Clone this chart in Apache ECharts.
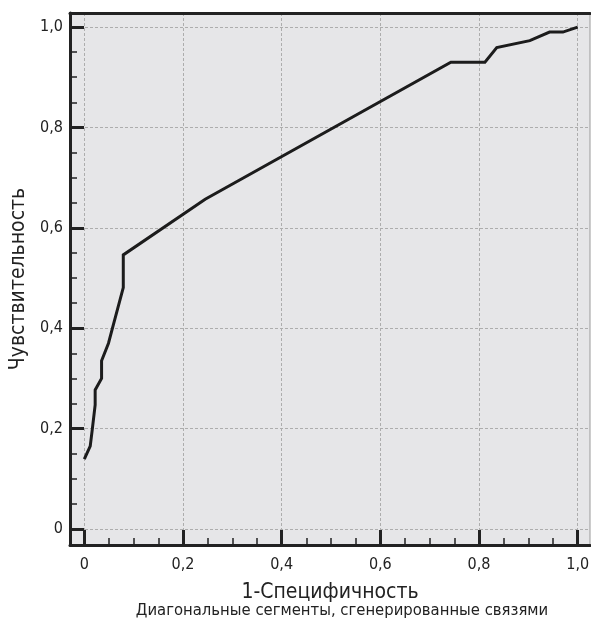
<!DOCTYPE html>
<html>
<head>
<meta charset="utf-8">
<script src="https://cdn.jsdelivr.net/npm/echarts@6/dist/echarts.min.js"></script>
<style>
  html, body {margin: 0; padding: 0; background: #fff;}
  #chart {width: 591px; height: 619px;}
</style>
</head>
<body>
<div id="chart"></div>
<script>
// ROC кривая - точки (1-специфичность, чувствительность)
var fpr = [0, 0.012, 0.016, 0.022, 0.022, 0.035, 0.035, 0.049, 0.056, 0.079, 0.079, 0.245, 0.743, 0.812, 0.836, 0.903, 0.943, 0.970, 1.0]
var tpr = [0.139, 0.165, 0.197, 0.247, 0.277, 0.300, 0.335, 0.370, 0.396, 0.481, 0.546, 0.657, 0.930, 0.930, 0.959, 0.973, 0.990, 0.990, 1.0]

var majorTicks = [0, 0.2, 0.4, 0.6, 0.8, 1.0]
var minorTicks = [0.05, 0.1, 0.15, 0.25, 0.3, 0.35, 0.45, 0.5, 0.55, 0.65, 0.7, 0.75, 0.85, 0.9, 0.95]
var tickLabels = ['0', '0,2', '0,4', '0,6', '0,8', '1,0']

var xName = '1-Специфичность'
var yName = 'Чувствительность'
var note = 'Диагональные сегменты, сгенерированные связями'

var FONT = '"Liberation Sans Narrow", "DejaVu Sans Condensed", sans-serif'
var INK = '#222'

var points = fpr.map(function (x, i) { return [x, tpr[i]] })

function fmt (v) {
  var i = majorTicks.indexOf(Math.round(v * 10) / 10)
  return i >= 0 ? tickLabels[i] : ''
}

var chart = echarts.init(document.getElementById('chart'), null, {renderer: 'canvas'})

var xRange = {min: -0.029, max: 1.025}
var yRange = {min: -0.032, max: 1.028}

var option = {
  animation: false,
  title: {
    text: note,
    left: 337,
    top: 597,
    textAlign: 'center',
    textStyle: {fontFamily: FONT, fontSize: 16.5, fontWeight: 'normal', color: INK}
  },
  grid: {
    left: 70, right: 1, top: 13, bottom: 74,
    outerBoundsMode: 'none',
    containLabel: false,
    show: true,
    backgroundColor: '#e6e6e8',
    borderColor: '#9a9a9a',
    borderWidth: 1
  },
  xAxis: [
    {
      type: 'value', position: 'bottom', min: xRange.min, max: xRange.max,
      name: xName, nameLocation: 'middle', nameGap: 37,
      nameTextStyle: {fontFamily: FONT, fontSize: 21, color: INK},
      axisLine: {show: true, onZero: false, lineStyle: {color: INK, width: 3}},
      axisTick: {show: true, inside: true, length: 15, lineStyle: {color: INK, width: 3}, customValues: majorTicks},
      axisLabel: {show: true, margin: 12, fontFamily: FONT, fontSize: 16, color: INK, customValues: majorTicks, formatter: fmt},
      splitLine: {show: true, lineStyle: {color: '#adadad', type: [3, 2], width: 1}}
    },
    {
      type: 'value', position: 'bottom', min: xRange.min, max: xRange.max,
      axisLine: {show: false, onZero: false},
      axisTick: {show: true, inside: true, length: 7, lineStyle: {color: INK, width: 1.5}, customValues: minorTicks},
      axisLabel: {show: false},
      splitLine: {show: false}
    },
    {
      type: 'value', position: 'top', min: xRange.min, max: xRange.max,
      axisLine: {show: true, onZero: false, lineStyle: {color: INK, width: 3}},
      axisTick: {show: false},
      axisLabel: {show: false},
      splitLine: {show: false}
    }
  ],
  yAxis: [
    {
      type: 'value', position: 'left', min: yRange.min, max: yRange.max,
      name: yName, nameLocation: 'middle', nameGap: 35,
      nameTextStyle: {fontFamily: FONT, fontSize: 21, color: INK},
      axisLine: {show: true, onZero: false, lineStyle: {color: INK, width: 3}},
      axisTick: {show: true, inside: true, length: 14, lineStyle: {color: INK, width: 3}, customValues: majorTicks},
      axisLabel: {show: true, margin: 7, fontFamily: FONT, fontSize: 16, color: INK, customValues: majorTicks, formatter: fmt},
      splitLine: {show: true, lineStyle: {color: '#adadad', type: [3, 2], width: 1}}
    },
    {
      type: 'value', position: 'left', min: yRange.min, max: yRange.max,
      axisLine: {show: false, onZero: false},
      axisTick: {show: true, inside: true, length: 7, lineStyle: {color: INK, width: 1.5}, customValues: minorTicks},
      axisLabel: {show: false},
      splitLine: {show: false}
    }
  ],
  series: [{
    type: 'line',
    xAxisIndex: 0,
    yAxisIndex: 0,
    data: points,
    symbol: 'none',
    lineStyle: {color: '#1c1c1c', width: 3, join: 'miter'}
  }]
}

chart.setOption(option)
</script>
</body>
</html>
